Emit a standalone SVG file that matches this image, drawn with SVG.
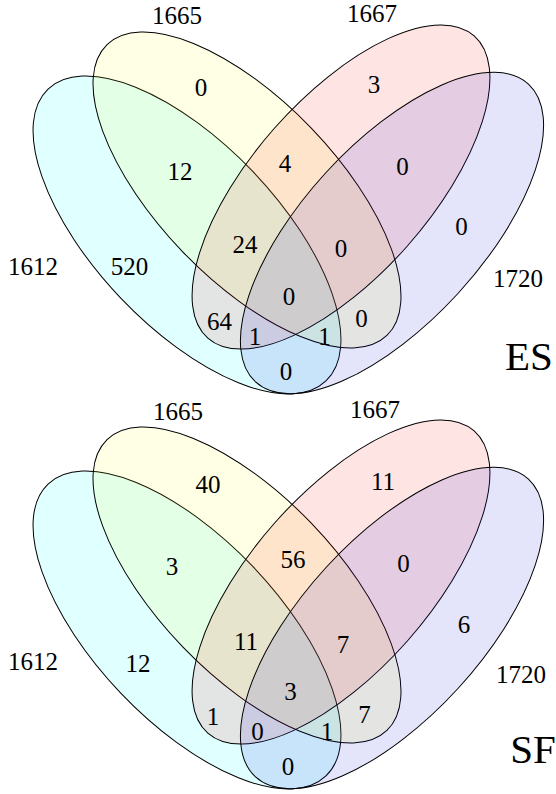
<svg xmlns="http://www.w3.org/2000/svg" width="556" height="794" viewBox="0 0 556 794" font-family="'Liberation Serif', 'DejaVu Serif', serif">
<style>
.e{stroke:#000;stroke-width:1}
.c1{fill:rgb(0,255,255);fill-opacity:.12}
.c2{fill:rgb(255,255,0);fill-opacity:.10}
.c3{fill:rgb(255,0,0);fill-opacity:.105}
.c4{fill:rgb(30,30,213);fill-opacity:.12}
text{font-family:'Liberation Serif','DejaVu Serif',serif;font-size:25px;text-anchor:middle;fill:#000}
.big{font-size:41px}
</style>
<rect width="556" height="794" fill="#fff"/>
<g id="venn-ES">
  <g id="ES-1612"><ellipse class="e c1" rx="201.5" ry="91.5" transform="translate(187 235) rotate(46.4)"/><text x="33" y="275">1612</text></g>
  <g id="ES-1665"><ellipse class="e c2" rx="201.8" ry="89.2" transform="translate(247 190) rotate(46.1)"/><text x="177" y="24">1665</text></g>
  <g id="ES-1667"><ellipse class="e c3" rx="201.4" ry="88.8" transform="translate(341 187) rotate(-48.6)"/><text x="372" y="22">1667</text></g>
  <g id="ES-1720"><ellipse class="e c4" rx="202" ry="89.5" transform="translate(392 233) rotate(-47.5)"/><text x="518" y="287">1720</text></g>
  <g id="ES-counts">
    <text x="201" y="96">0</text>
    <text x="374" y="93">3</text>
    <text x="180" y="180">12</text>
    <text x="285" y="172">4</text>
    <text x="402.5" y="175">0</text>
    <text x="461.5" y="235">0</text>
    <text x="129.5" y="275">520</text>
    <text x="245" y="253">24</text>
    <text x="341" y="257">0</text>
    <text x="289" y="305">0</text>
    <text x="219.5" y="330">64</text>
    <text x="255" y="345">1</text>
    <text x="324.5" y="345">1</text>
    <text x="361.5" y="327">0</text>
    <text x="286" y="380">0</text>
  </g>
  <text class="big" x="529" y="370">ES</text>
</g>
<g id="venn-SF">
  <g id="SF-1612"><ellipse class="e c1" rx="201.5" ry="91.5" transform="translate(187 630) rotate(46.4)"/><text x="33" y="670">1612</text></g>
  <g id="SF-1665"><ellipse class="e c2" rx="201.8" ry="89.2" transform="translate(247 585) rotate(46.1)"/><text x="178" y="420">1665</text></g>
  <g id="SF-1667"><ellipse class="e c3" rx="201.4" ry="88.8" transform="translate(341 582) rotate(-48.6)"/><text x="375" y="418">1667</text></g>
  <g id="SF-1720"><ellipse class="e c4" rx="202" ry="89.5" transform="translate(392 628) rotate(-47.5)"/><text x="521" y="683">1720</text></g>
  <g id="SF-counts">
    <text x="208" y="493">40</text>
    <text x="383" y="490">11</text>
    <text x="172" y="575">3</text>
    <text x="293" y="568">56</text>
    <text x="403.5" y="572">0</text>
    <text x="464" y="633">6</text>
    <text x="138" y="672">12</text>
    <text x="246" y="650">11</text>
    <text x="343" y="653">7</text>
    <text x="290.5" y="700">3</text>
    <text x="213" y="725">1</text>
    <text x="364.5" y="723">7</text>
    <text x="257.5" y="740">0</text>
    <text x="327" y="740">1</text>
    <text x="288" y="775">0</text>
  </g>
  <text class="big" x="533" y="763">SF</text>
</g>
</svg>
